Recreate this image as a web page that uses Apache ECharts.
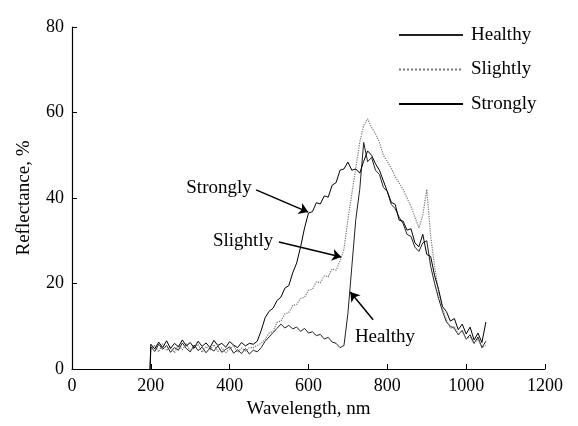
<!DOCTYPE html>
<html>
<head>
<meta charset="utf-8">
<script src="https://cdn.jsdelivr.net/npm/echarts@6/dist/echarts.min.js"></script>
<style>
  html, body { margin: 0; padding: 0; background: #fff; }
  #chart { width: 578px; height: 426px; }
</style>
</head>
<body>
<div id="chart"></div>
<script>
// wavelength, nm
const wavelengths = [
  198, 200, 210, 220, 230, 240, 250, 260, 270, 280, 290,
  300, 310, 320, 330, 340, 350, 360, 370, 380, 390,
  400, 410, 420, 430, 440, 450, 460, 470, 480, 490,
  500, 510, 520, 530, 540, 550, 560, 570, 580, 590,
  600, 610, 620, 630, 640, 650, 660, 670, 680, 690,
  700, 710, 720, 730, 740, 750, 760, 770, 780, 790,
  800, 810, 820, 830, 840, 850, 860, 870, 880, 890,
  900, 910, 920, 930, 940, 950, 960, 970, 980, 990,
  1000, 1010, 1020, 1030, 1040, 1050
]

// reflectance, %
const healthy = [
  0, 5.2, 4.1, 5.8, 4.6, 5.5, 3.9, 5.0, 4.4, 6.1, 4.8,
  4.0, 5.6, 4.3, 5.1, 3.8, 4.9, 4.2, 5.4, 3.9, 4.6,
  5.2, 3.7, 4.5, 3.6, 4.8, 3.5, 4.4, 4.0, 5.0, 6.5,
  7.5, 8.5, 9.5, 10.5, 9.6, 10.2, 9.4, 9.8, 8.8, 9.5,
  8.4, 8.7, 7.8, 8.1, 7.0, 7.4, 6.3, 6.0, 5.0, 5.5,
  13, 24, 35, 42, 53, 48.5, 49.5, 46.5, 45.5, 42.5,
  41.5, 38.5, 37.5, 35.5, 34, 31.5, 31, 28.5, 27.5, 29.5,
  30, 24, 20, 16.5, 13.5, 11, 10, 9.5, 8, 9,
  7, 8, 6, 7.5, 5, 6.5
]

const slightly = [
  0, 4.6, 5.5, 4.0, 5.9, 4.3, 5.2, 3.8, 5.6, 4.5, 5.9,
  4.2, 4.9, 5.8, 3.9, 5.3, 4.4, 5.7, 4.1, 5.0, 3.8,
  4.7, 5.5, 3.9, 4.9, 4.2, 5.0, 5.0, 5.5, 6.0, 7.0,
  8.4, 8.8, 10.9, 11.2, 12.9, 13.2, 14.9, 15.1, 16.5, 16.8,
  18.4, 18.7, 20.4, 20.2, 21.8, 21.6, 23.4, 23.1, 25.3, 28,
  35, 41, 47, 53, 57, 58.5, 56.5, 55, 53, 50,
  48.5, 47, 45, 43.5, 42, 40, 38, 35.5, 33, 36,
  42, 31, 24, 18, 14, 11.5, 9.5, 10, 8, 9,
  7, 7.5, 6, 7, 5, 5.5
]

const strongly = [
  0, 5.8, 4.7, 6.3, 5.0, 6.6, 4.8, 6.0, 5.2, 6.8, 5.4,
  6.2, 4.9, 6.5, 5.3, 6.1, 5.0, 6.7, 5.5, 6.0, 5.1,
  6.4, 5.6, 5.0, 6.2, 5.4, 6.0, 5.8, 6.5, 9, 12,
  13.5, 14.2, 16.0, 16.8, 18.9, 19.5, 22.5, 24.8, 28.6, 33,
  36.5, 36.8, 38.9, 38.6, 40.5, 40.2, 43.0, 43.6, 46.5, 46.8,
  48.4, 46.5, 46.8, 45.8, 48.6, 51, 50, 48, 46.5, 44,
  41.5, 39, 38.5, 34.8, 34.6, 32.5, 32.8, 29.5, 28.6, 31.5,
  26.8, 26.3, 21.8, 18.6, 14.6, 13.4, 11.2, 11.8, 9.2, 10.5,
  8.2, 9.8, 6.8, 8.4, 6.2, 11
]

const xTicks = [0, 200, 400, 600, 800, 1000, 1200]
const yTicks = [0, 20, 40, 60, 80]

// 标注：文字位置与箭头（数据坐标）
const annotations = [
  { name: 'Strongly', text: [373, 42.3], from: [467, 41.9], to: [599, 36.7] },
  { name: 'Slightly', text: [434, 29.9], from: [525, 29.7], to: [683, 26.2] },
  { name: 'Healthy',  text: [794, 7.5],  from: [764, 11.5], to: [706, 18.0] }
]

const font = 'Liberation Serif'

function pairs(vals) {
  return wavelengths.map((w, i) => [w, vals[i]])
}

const chart = echarts.init(document.getElementById('chart'))
chart.setOption({
  animation: false,
  backgroundColor: '#fff',
  textStyle: { fontFamily: font, color: '#000' },
  grid: { left: 72, right: 33, top: 27, bottom: 57 },
  legend: {
    orient: 'vertical',
    left: 398,
    top: 25,
    padding: 0,
    itemWidth: 64,
    itemHeight: 14,
    itemGap: 14.5,
    itemStyle: { opacity: 0 },
    textStyle: { fontFamily: font, fontSize: 19, color: '#000', lineHeight: 20, padding: [0, 0, 0, 3] },
    data: ['Healthy', 'Slightly', 'Strongly']
  },
  xAxis: {
    type: 'value',
    min: xTicks[0],
    max: xTicks[xTicks.length - 1],
    interval: 200,
    name: 'Wavelength, nm',
    nameLocation: 'middle',
    nameGap: 30,
    nameTextStyle: { fontFamily: font, fontSize: 19, color: '#000' },
    axisLine: { lineStyle: { color: '#000', width: 1.2 } },
    axisTick: { inside: true, length: 5, lineStyle: { color: '#000' } },
    axisLabel: { margin: 8, fontFamily: font, fontSize: 18, color: '#000', formatter: v => String(v) },
    splitLine: { show: false }
  },
  yAxis: {
    type: 'value',
    min: yTicks[0],
    max: yTicks[yTicks.length - 1],
    interval: 20,
    name: 'Reflectance, %',
    nameLocation: 'middle',
    nameGap: 38,
    nameTextStyle: { fontFamily: font, fontSize: 19, color: '#000' },
    axisLine: { show: true, lineStyle: { color: '#000', width: 1.2 } },
    axisTick: { show: true, inside: true, length: 5, lineStyle: { color: '#000' } },
    axisLabel: { margin: 8, fontFamily: font, fontSize: 18, color: '#000' },
    splitLine: { show: false }
  },
  series: [
    {
      name: 'Healthy',
      type: 'line',
      data: pairs(healthy),
      showSymbol: false,
      symbol: 'none',
      color: '#222',
      lineStyle: { color: '#222', width: 1 }
    },
    {
      name: 'Slightly',
      type: 'line',
      data: pairs(slightly),
      showSymbol: false,
      symbol: 'none',
      color: '#777',
      lineStyle: { color: '#777', width: 1.2, type: 'dotted' }
    },
    {
      name: 'Strongly',
      type: 'line',
      data: pairs(strongly),
      showSymbol: false,
      symbol: 'none',
      color: '#000',
      lineStyle: { color: '#000', width: 1 },
      markLine: {
        silent: true,
        symbol: ['none', 'arrow'],
        symbolSize: 9,
        label: { show: false },
        lineStyle: { color: '#000', width: 1.5, type: 'solid' },
        data: annotations.map(a => [{ coord: a.from }, { coord: a.to }])
      },
      markPoint: {
        silent: true,
        symbol: 'circle',
        symbolSize: 0,
        label: {
          show: true,
          position: 'inside',
          formatter: '{b}',
          fontFamily: font,
          fontSize: 19,
          color: '#000'
        },
        data: annotations.map(a => ({ name: a.name, coord: a.text }))
      }
    }
  ]
})
</script>
</body>
</html>
